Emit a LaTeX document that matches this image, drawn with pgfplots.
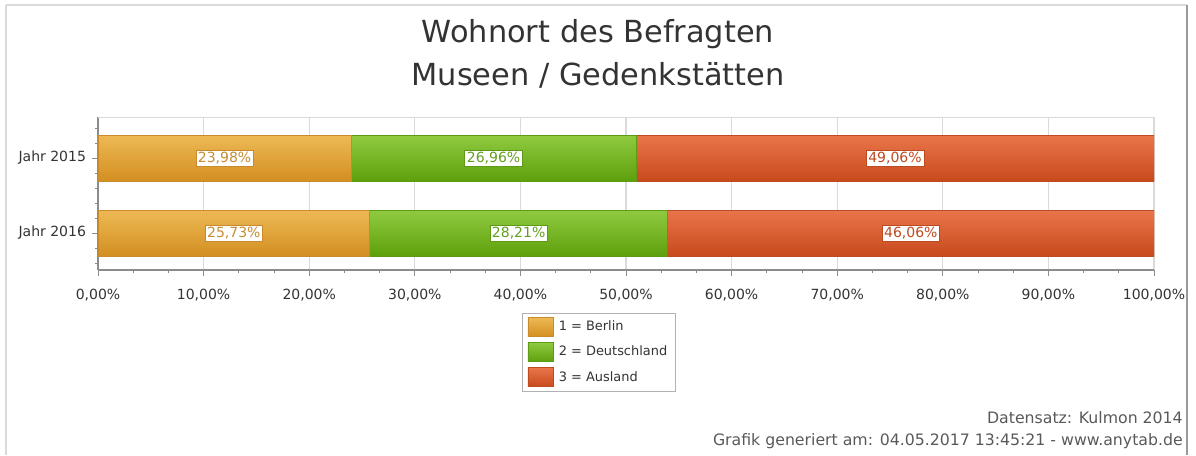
\documentclass[border=0pt]{standalone}
\usepackage{pgfplots}
\pgfplotsset{compat=1.18}
\usepackage{pgfplotstable}
\usepackage{fontspec}
\setmainfont{DejaVu Sans}

\definecolor{berlintop}{HTML}{EDB955}
\definecolor{berlinbot}{HTML}{D38F21}
\definecolor{berlinline}{HTML}{C98A2B}
\definecolor{berlintxt}{HTML}{C58E33}
\definecolor{greentop}{HTML}{8FCA40}
\definecolor{greenbot}{HTML}{5EA00C}
\definecolor{greenline}{HTML}{5E9B14}
\definecolor{greentxt}{HTML}{62A020}
\definecolor{redtop}{HTML}{E9754A}
\definecolor{redbot}{HTML}{C84A1D}
\definecolor{redline}{HTML}{BD4A21}
\definecolor{redtxt}{HTML}{C04A20}
\definecolor{gridgray}{HTML}{DADADA}
\definecolor{axgray}{HTML}{8C8C8C}
\definecolor{txtgray}{HTML}{333333}

% shares in percent; y=1 is Jahr 2015 (top), y=0 is Jahr 2016
\pgfplotstableread{
y berlin deutsch ausland
1 23.98  26.96   49.06
}\jahrA
\pgfplotstableread{
y berlin deutsch ausland
0 25.73  28.21   46.06
}\jahrB

\pgfplotsset{
    wohnaxis/.style={
        at={(73.5pt,138.75pt)}, anchor=south west,
        scale only axis,
        width=792pt, height=114.75pt,
        xbar stacked,
        bar width=0.61,
        xmin=0, xmax=100,
        ymin=-0.493, ymax=1.547,
        /pgf/number format/assume math mode=true,
        point meta=explicit,
        nodes near coords={\pgfmathprintnumber[fixed,fixed zerofill,precision=2,use comma]{\pgfplotspointmeta}\%},
    },
    lbl/.style n args={2}{
        nodes near coords style={anchor=center, fill=white, draw=#1,
            text=#2, inner sep=1.6pt, font=\fontsize{10.5}{12}\selectfont},
    },
    berlinbar/.style={draw=berlinline, top color=berlintop, bottom color=berlinbot,
        lbl={berlinline}{berlintxt}},
    greenbar/.style={draw=greenline, top color=greentop, bottom color=greenbot,
        lbl={greenline}{greentxt}},
    redbar/.style={draw=redline, top color=redtop, bottom color=redbot,
        lbl={redline}{redtxt}},
}

\begin{document}
\begin{tikzpicture}
\path[use as bounding box] (0,0) rectangle (897pt,341.25pt);

% outer frame
\draw[line width=1.5pt, color=gridgray] (4.5pt,337.5pt) -- (890.25pt,337.5pt);
\draw[line width=1.5pt, color=gridgray] (4.5pt,337.5pt) -- (4.5pt,0pt);
\draw[line width=1.5pt, color=black!40] (890.25pt,337.5pt) -- (890.25pt,0pt);

% title
\node[anchor=base, font=\fontsize{22.8}{26}\selectfont, text=txtgray] at (448.5pt,309.75pt) {Wohnort des Befragten};
\node[anchor=base, font=\fontsize{22.8}{26}\selectfont, text=txtgray] at (448.5pt,277.5pt) {Museen / Gedenkstätten};

% Jahr 2015, with ticks, grid and legend
\begin{axis}[
    wohnaxis,
    xtick={0,10,...,100},
    minor x tick num=2,
    ytick={0,1},
    yticklabels={Jahr 2016, Jahr 2015},
    minor ytick={-0.4,-0.2,0.2,0.4,0.6,0.8,1.2,1.4},
    xticklabel={\pgfmathprintnumber[fixed,fixed zerofill,precision=2,use comma]{\tick}\%},
    tick label style={font=\fontsize{10.5}{12}\selectfont, text=txtgray},
    xticklabel style={yshift=-6pt},
    yticklabel style={xshift=-1pt},
    tick align=outside,
    major tick length=4.5pt,
    minor tick length=2.2pt,
    tick style={axgray, line width=0.6pt},
    axis x line*=bottom,
    axis y line*=left,
    axis line style={-, axgray, line width=0.8pt},
    xmajorgrids=true,
    grid style={gridgray, line width=0.8pt},
    legend style={at={(0.4015,-0.281)}, anchor=north west,
        draw=black!30, inner xsep=4pt, inner ysep=3pt,
        font=\fontsize{9.7}{11}\selectfont, text=txtgray,
        row sep=4.2pt, cells={anchor=west, inner xsep=2.5pt}},
    legend image code/.code={\draw[#1] (0pt,-7.1pt) rectangle (18.75pt,7.1pt);
        \path (21pt,0pt);},
]
\draw[gridgray, line width=0.8pt] (rel axis cs:0,1) -- (rel axis cs:1,1);
\addplot[berlinbar] table[x=berlin, y=y, meta=berlin] {\jahrA};
\addplot[greenbar] table[x=deutsch, y=y, meta=deutsch] {\jahrA};
\addplot[redbar] table[x=ausland, y=y, meta=ausland] {\jahrA};
\legend{1 = Berlin, 2 = Deutschland, 3 = Ausland}
\end{axis}

% Jahr 2016, same frame, bars only
\begin{axis}[wohnaxis, hide axis]
\addplot[berlinbar] table[x=berlin, y=y, meta=berlin] {\jahrB};
\addplot[greenbar] table[x=deutsch, y=y, meta=deutsch] {\jahrB};
\addplot[redbar] table[x=ausland, y=y, meta=ausland] {\jahrB};
\end{axis}

% footer
\node[anchor=base east, inner sep=0pt, font=\fontsize{11.8}{14}\selectfont, text=black!65] at (887.25pt,24pt) {Datensatz: Kulmon 2014};
\node[anchor=base east, inner sep=0pt, font=\fontsize{11.8}{14}\selectfont, text=black!65] at (887.25pt,7.5pt) {Grafik generiert am: 04.05.2017 13:45:21 - www.anytab.de};
\end{tikzpicture}
\end{document}
